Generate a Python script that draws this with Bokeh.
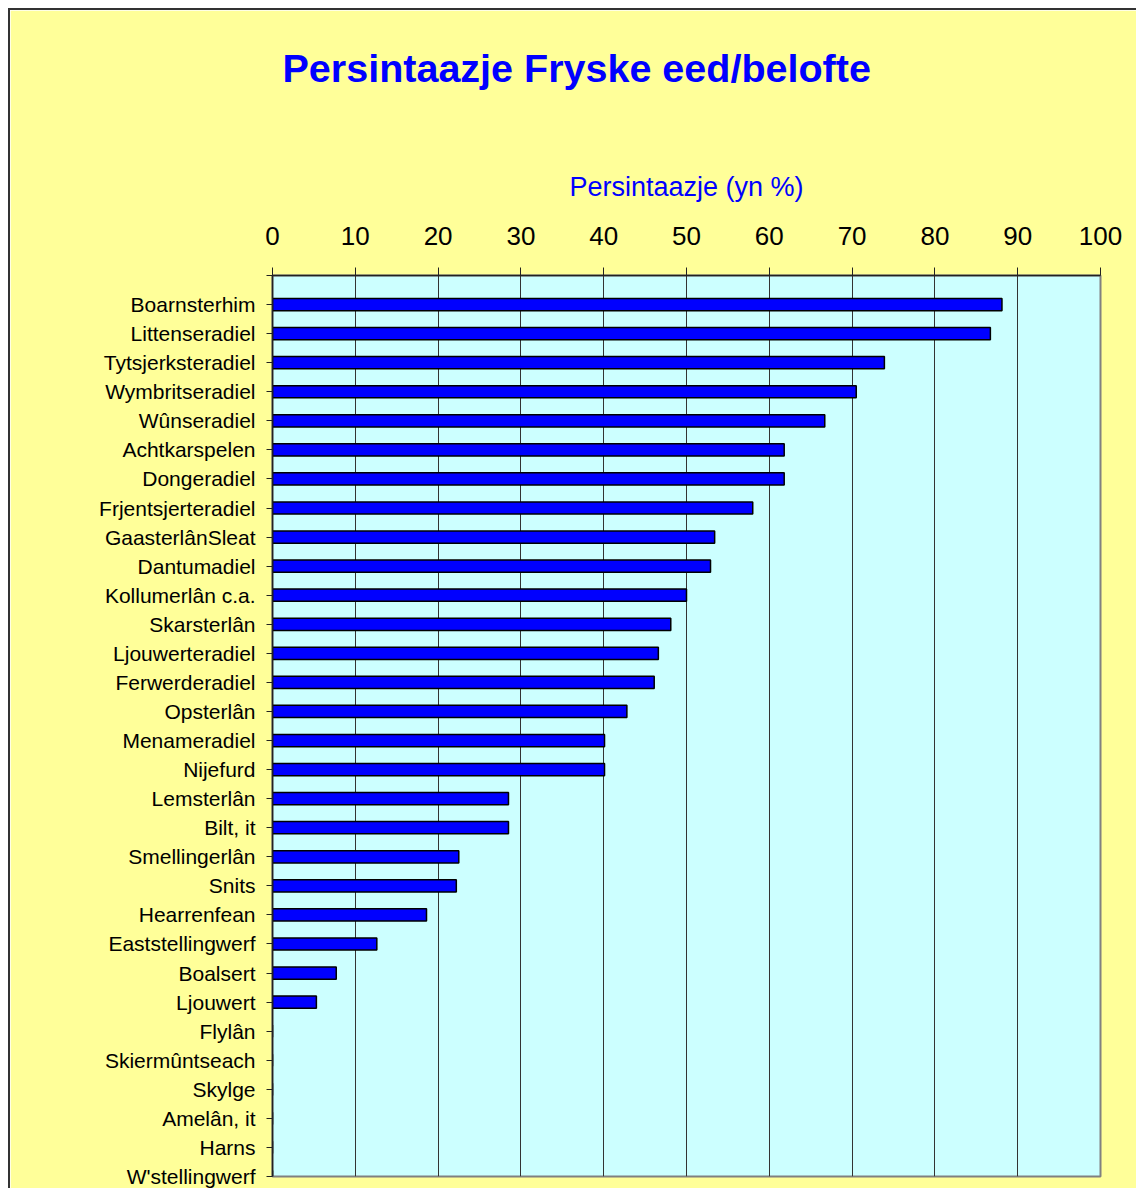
from bokeh.plotting import figure
from bokeh.models import Range1d, LinearAxis, FixedTicker, Title, ColumnDataSource
from bokeh.embed import file_html
from bokeh.resources import INLINE

municipalities = [
    "Boarnsterhim", "Littenseradiel", "Tytsjerksteradiel", "Wymbritseradiel",
    "Wûnseradiel", "Achtkarspelen", "Dongeradiel", "Frjentsjerteradiel",
    "GaasterlânSleat", "Dantumadiel", "Kollumerlân c.a.", "Skarsterlân",
    "Ljouwerteradiel", "Ferwerderadiel", "Opsterlân", "Menameradiel",
    "Nijefurd", "Lemsterlân", "Bilt, it", "Smellingerlân", "Snits",
    "Hearrenfean", "Eaststellingwerf", "Boalsert", "Ljouwert", "Flylân",
    "Skiermûntseach", "Skylge", "Amelân, it", "Harns", "W'stellingwerf",
]
percentages = [
    88.1, 86.7, 73.9, 70.5, 66.7, 61.8, 61.8, 58.0, 53.4, 52.9, 50.0, 48.1,
    46.6, 46.1, 42.8, 40.1, 40.1, 28.5, 28.5, 22.5, 22.2, 18.6, 12.6, 7.7,
    5.3, 0.0, 0.0, 0.0, 0.0, 0.0, 0.0,
]
x_ticks = [0, 10, 20, 30, 40, 50, 60, 70, 80, 90, 100]

title_text = "Persintaazje Fryske eed/belofte"
x_label = "Persintaazje (yn %)"

positions = list(range(len(municipalities)))
src = ColumnDataSource(dict(y=positions, right=percentages, name=municipalities))

FONT = "Liberation Sans"
YELLOW = "#FFFF99"

p = figure(
    frame_width=828, frame_height=901,
    min_border_left=262, min_border_right=36, min_border_top=265, min_border_bottom=12,
    x_range=Range1d(0, 100), y_range=Range1d(len(municipalities) - 1, -1),
    output_backend="svg", toolbar_location=None,
    x_axis_location=None, y_axis_location=None,
)
p.background_fill_color = "#CCFFFF"
p.border_fill_color = YELLOW
p.outline_line_color = "#808080"
p.outline_line_width = 2
p.styles = {"margin-left": "8px", "margin-top": "8px",
            "border-left": "2px solid #333333", "border-top": "2px solid #333333"}

p.hbar(y="y", right="right", left=0, height=0.42, source=src,
       fill_color="#0000FF", line_color="black", line_width=1.5)

# top x axis
xa = LinearAxis(ticker=FixedTicker(ticks=x_ticks), axis_label=x_label)
xa.axis_line_color = "#222222"
xa.axis_line_width = 1.5
xa.major_tick_line_color = "#222222"
xa.major_tick_out = 8
xa.major_tick_in = 0
xa.minor_tick_out = 0
xa.minor_tick_in = 0
xa.major_label_text_font = FONT
xa.major_label_text_font_size = "26px"
xa.major_label_text_color = "black"
xa.major_label_standoff = 23
xa.axis_label_text_font = FONT
xa.axis_label_text_font_size = "27px"
xa.axis_label_text_font_style = "normal"
xa.axis_label_text_color = "#0000FF"
xa.axis_label_standoff = 22
p.add_layout(xa, "above")

# left category axis
ya = LinearAxis(ticker=FixedTicker(ticks=[-1] + positions))
ya.major_label_overrides = {-1: ""} | {i: n for i, n in zip(positions, municipalities)}
ya.axis_line_color = "#222222"
ya.axis_line_width = 1.5
ya.major_tick_line_color = "#222222"
ya.major_tick_out = 6
ya.major_tick_in = 0
ya.minor_tick_out = 0
ya.minor_tick_in = 0
ya.major_label_text_font = FONT
ya.major_label_text_font_size = "21px"
ya.major_label_text_color = "black"
ya.major_label_standoff = 11
p.add_layout(ya, "left")

p.xgrid.ticker = FixedTicker(ticks=x_ticks)
p.xgrid.grid_line_color = "#333333"
p.xgrid.grid_line_width = 1
p.ygrid.grid_line_color = None

# empty spacer panel between the axis and the title
spacer = Title(text=" ", text_font=FONT, text_font_size="1px", standoff=42)
p.add_layout(spacer, "above")

t = Title(text=title_text, align="left", offset=10, standoff=67,
          text_font=FONT, text_font_size="39.5px", text_font_style="bold",
          text_color="#0000FF")
p.add_layout(t, "above")

open("out.html", "w").write(file_html(p, INLINE))
